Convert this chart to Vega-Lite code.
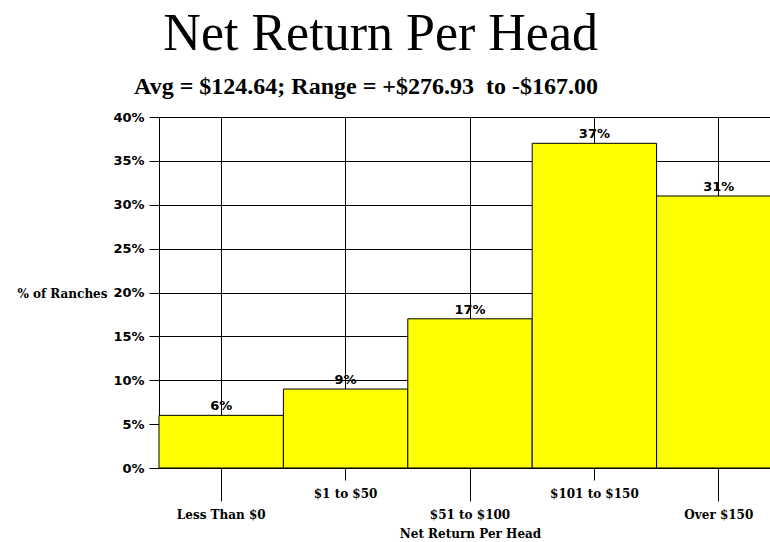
{
  "$schema": "https://vega.github.io/schema/vega-lite/v6.json",
  "width": 622,
  "height": 351,
  "padding": {"left": 16, "top": 8, "right": 0, "bottom": 0},
  "background": "white",
  "title": {
    "text": "Net Return Per Head",
    "subtitle": "Avg = $124.64; Range = +$276.93 \u00a0to -$167.00",
    "font": "Liberation Serif",
    "fontSize": 52,
    "fontWeight": "normal",
    "color": "black",
    "subtitleFont": "Liberation Serif",
    "subtitleFontSize": 24,
    "subtitleFontWeight": "bold",
    "subtitleColor": "black",
    "subtitlePadding": 14,
    "anchor": "middle",
    "align": "right",
    "dx": 128,
    "offset": 11
  },
  "data": {
    "values": [
      {"range": "Less Than $0", "pct": 6, "label": "6%"},
      {"range": "$1 to $50", "pct": 9, "label": "9%"},
      {"range": "$51 to $100", "pct": 17, "label": "17%"},
      {"range": "$101 to $150", "pct": 37, "label": "37%"},
      {"range": "Over $150", "pct": 31, "label": "31%"}
    ]
  },
  "encoding": {
    "x": {
      "field": "range",
      "type": "nominal",
      "sort": null,
      "scale": {"paddingInner": 0, "paddingOuter": 0},
      "axis": {
        "title": "Net Return Per Head",
        "titleFont": "DejaVu Serif",
        "titleFontSize": 12,
        "titleFontWeight": "bold",
        "titleColor": "black",
        "titlePadding": 8,
        "labelAngle": 0,
        "labelFont": "DejaVu Serif",
        "labelFontSize": 12,
        "labelFontWeight": "bold",
        "labelColor": "black",
        "labelPadding": 8,
        "tickSize": {"condition": {"test": "indexof(['Less Than $0','$51 to $100','Over $150'], datum.value) >= 0", "value": 33}, "value": 12},
        "tickColor": "black",
        "domain": false,
        "grid": true,
        "gridColor": "black",
        "gridOpacity": 1,
        "gridWidth": 1
      }
    },
    "y": {
      "field": "pct",
      "type": "quantitative",
      "scale": {"domain": [0, 40], "nice": false},
      "axis": {
        "values": [0, 5, 10, 15, 20, 25, 30, 35, 40],
        "labelExpr": "datum.value + '%'",
        "title": "% of Ranches",
        "titleAngle": 0,
        "titleAlign": "right",
        "titleBaseline": "middle",
        "titleX": -52,
        "titleY": 176,
        "titleFont": "DejaVu Serif",
        "titleFontSize": 12,
        "titleFontWeight": "bold",
        "titleColor": "black",
        "labelFont": "DejaVu Sans",
        "labelFontSize": 13,
        "labelFontWeight": "bold",
        "labelColor": "black",
        "labelPadding": 5,
        "tickSize": 10,
        "tickColor": "black",
        "domainColor": "black",
        "grid": true,
        "gridColor": "black",
        "gridOpacity": 1,
        "gridWidth": 1
      }
    }
  },
  "layer": [
    {
      "mark": {"type": "bar", "color": "#ffff00", "stroke": "black", "strokeWidth": 1}
    },
    {
      "mark": {"type": "text", "baseline": "bottom", "dy": -2, "font": "DejaVu Sans", "fontSize": 13, "fontWeight": "bold", "color": "black"},
      "encoding": {"text": {"field": "label"}}
    }
  ],
  "config": {"view": {"stroke": null}}
}
